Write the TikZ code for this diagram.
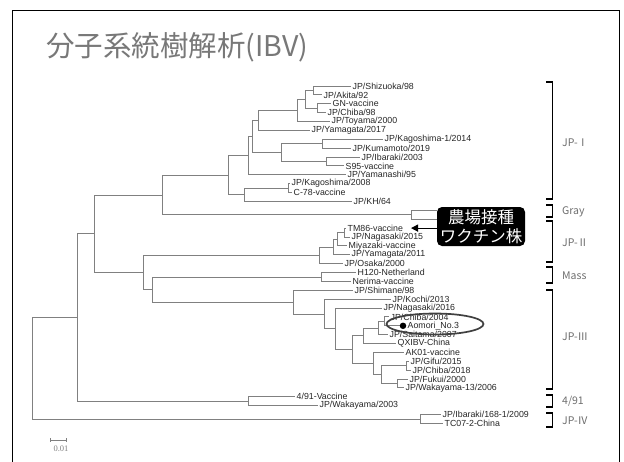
\documentclass[tikz,border=0pt]{standalone}
\usepackage{fontspec}
\setmainfont{Liberation Sans}
\newfontfamily\cjk{Noto Sans CJK JP}
\newfontfamily\numserif{Liberation Serif}
\usetikzlibrary{arrows.meta,shapes.geometric}
\definecolor{treegray}{RGB}{128,128,128}
\definecolor{titlegray}{RGB}{120,120,120}
\definecolor{labgray}{RGB}{110,110,110}
\begin{document}
\begin{tikzpicture}[x=1pt,y=-1pt,
  br/.style={draw=treegray,line width=0.9pt},
  lab/.style={anchor=west,inner sep=0pt,xshift=1.5pt,text=black!85,font=\fontsize{8.8}{9.5}\selectfont},
  brk/.style={draw=black,line width=1.6pt},
  grp/.style={anchor=west,inner sep=0pt,text=labgray,font=\cjk\fontsize{10.5}{11}\selectfont}]
\useasboundingbox (0,0) rectangle (624,461);
\fill[white] (0,0) rectangle (624,461);
% frame
\draw[line width=1.5pt] (12.5,470) -- (12.5,10.5) -- (619.5,10.5) -- (619.5,470);
% title
\node[anchor=west,inner sep=0pt,text=titlegray,font=\cjk\fontsize{28.5}{31}\selectfont] (title) at (46,47) {分子系統樹解析(IBV)};

% ---- leaves
\coordinate (l1) at (351,86.0);
\coordinate (l2) at (322,94.9);
\coordinate (l3) at (331,103.8);
\coordinate (l4) at (326,112.6);
\coordinate (l5) at (330,121.5);
\coordinate (l6) at (310,130.4);
\coordinate (l7) at (383,139.3);
\coordinate (l8) at (351,148.2);
\coordinate (l9) at (360,157.0);
\coordinate (l10) at (344,165.9);
\coordinate (l11) at (346,174.8);
\coordinate (l12) at (290,183.7);
\coordinate (l13) at (292,192.6);
\coordinate (l14) at (352,201.4);
\coordinate (l15) at (437,210.3);
\coordinate (l16) at (437,219.2);
\coordinate (l17) at (346,228.1);
\coordinate (l18) at (350,237.0);
\coordinate (l19) at (347,245.8);
\coordinate (l20) at (350,254.7);
\coordinate (l21) at (343,263.6);
\coordinate (l22) at (356,272.5);
\coordinate (l23) at (351,281.4);
\coordinate (l24) at (353,290.2);
\coordinate (l25) at (391,299.1);
\coordinate (l26) at (382,308.0);
\coordinate (l27) at (389,316.9);
\coordinate (l28) at (403,325.8);
\coordinate (l29) at (388,334.6);
\coordinate (l30) at (396,343.5);
\coordinate (l31) at (404,352.4);
\coordinate (l32) at (409,361.3);
\coordinate (l33) at (411,370.2);
\coordinate (l34) at (408,379.0);
\coordinate (l35) at (404,387.9);
\coordinate (l36) at (295,396.8);
\coordinate (l37) at (318,405.7);
\coordinate (l38) at (441,414.6);
\coordinate (l39) at (443,423.4);

% ---- internal nodes
\coordinate (A) at (313,90.45);
\coordinate (B) at (317,108.2);
\coordinate (C) at (305,99.3);
\coordinate (D) at (297,110.4);
\coordinate (E) at (258,120.4);
\coordinate (H) at (322,143.75);
\coordinate (I) at (326,161.45);
\coordinate (G) at (281,152.6);
\coordinate (F) at (252,136.5);
\coordinate (P248) at (248,155.65);
\coordinate (KC) at (288,188.15);
\coordinate (P244) at (244,194.8);
\coordinate (P228) at (228,175.2);
\coordinate (GR) at (411,214.75);
\coordinate (P162) at (162,195.0);
\coordinate (TN) at (344,232.55);
\coordinate (Z) at (337,239.2);
\coordinate (X) at (333,246.95);
\coordinate (JP2) at (319,255.3);
\coordinate (MS) at (321,276.95);
\coordinate (N1) at (384,321.35);
\coordinate (N) at (378,327.97);
\coordinate (Q) at (363,335.7);
\coordinate (G1) at (406,365.75);
\coordinate (F1) at (397,383.45);
\coordinate (R2) at (381,374.6);
\coordinate (R) at (373,363.5);
\coordinate (M) at (352,349.6);
\coordinate (L) at (335,328.8);
\coordinate (K) at (324,313.95);
\coordinate (J) at (293,302.1);
\coordinate (P152) at (152,289.5);
\coordinate (P143) at (143,272.4);
\coordinate (P94) at (94,233.7);
\coordinate (V) at (248,401.25);
\coordinate (P77) at (77,317.5);
\coordinate (W) at (420,419.0);
\coordinate (ROOT) at (32,368.25);

% ---- branches
\draw[br] (A) |- (l1); \draw[br] (A) |- (l2);
\draw[br] (B) |- (l3); \draw[br] (B) |- (l4);
\draw[br] (C) |- (A); \draw[br] (C) |- (B);
\draw[br] (D) |- (C); \draw[br] (D) |- (l5);
\draw[br] (E) |- (D); \draw[br] (E) |- (l6);
\draw[br] (H) |- (l7); \draw[br] (H) |- (l8);
\draw[br] (I) |- (l9); \draw[br] (I) |- (l10);
\draw[br] (G) |- (H); \draw[br] (G) |- (I);
\draw[br] (F) |- (E); \draw[br] (F) |- (G);
\draw[br] (P248) |- (F); \draw[br] (P248) |- (l11);
\draw[br] (KC) |- (l12); \draw[br] (KC) |- (l13);
\draw[br] (P244) |- (KC); \draw[br] (P244) |- (l14);
\draw[br] (P228) |- (P248); \draw[br] (P228) |- (P244);
\draw[br] (GR) |- (l15); \draw[br] (GR) |- (l16);
\draw[br] (P162) |- (P228); \draw[br] (P162) |- (GR);
\draw[br] (TN) |- (l17); \draw[br] (TN) |- (l18);
\draw[br] (Z) |- (TN); \draw[br] (Z) |- (l19);
\draw[br] (X) |- (Z); \draw[br] (X) |- (l20);
\draw[br] (JP2) |- (X); \draw[br] (JP2) |- (l21);
\draw[br] (MS) |- (l22); \draw[br] (MS) |- (l23);
\draw[br] (N1) |- (l27); \draw[br] (N1) |- (l28);
\draw[br] (N) |- (N1); \draw[br] (N) |- (l29);
\draw[br] (Q) |- (N); \draw[br] (Q) |- (l30);
\draw[br] (G1) |- (l32); \draw[br] (G1) |- (l33);
\draw[br] (F1) |- (l34); \draw[br] (F1) |- (l35);
\draw[br] (R2) |- (G1); \draw[br] (R2) |- (F1);
\draw[br] (R) |- (l31); \draw[br] (R) |- (R2);
\draw[br] (M) |- (Q); \draw[br] (M) |- (R);
\draw[br] (L) |- (l26); \draw[br] (L) |- (M);
\draw[br] (K) |- (l25); \draw[br] (K) |- (L);
\draw[br] (J) |- (l24); \draw[br] (J) |- (K);
\draw[br] (P152) |- (MS); \draw[br] (P152) |- (J);
\draw[br] (P143) |- (JP2); \draw[br] (P143) |- (P152);
\draw[br] (P94) |- (P162); \draw[br] (P94) |- (P143);
\draw[br] (V) |- (l36); \draw[br] (V) |- (l37);
\draw[br] (P77) |- (P94); \draw[br] (P77) |- (V);
\draw[br] (W) |- (l38); \draw[br] (W) |- (l39);
\draw[br] (ROOT) |- (P77); \draw[br] (ROOT) |- (W);

% ---- labels
\node[lab] (t1) at (l1) {JP/Shizuoka/98};
\node[lab] (t2) at (l2) {JP/Akita/92};
\node[lab] (t3) at (l3) {GN-vaccine};
\node[lab] (t4) at (l4) {JP/Chiba/98};
\node[lab] (t5) at (l5) {JP/Toyama/2000};
\node[lab] (t6) at (l6) {JP/Yamagata/2017};
\node[lab] (t7) at (l7) {JP/Kagoshima-1/2014};
\node[lab] (t8) at (l8) {JP/Kumamoto/2019};
\node[lab] (t9) at (l9) {JP/Ibaraki/2003};
\node[lab] (t10) at (l10) {S95-vaccine};
\node[lab] (t11) at (l11) {JP/Yamanashi/95};
\node[lab] (t12) at (l12) {JP/Kagoshima/2008};
\node[lab] (t13) at (l13) {C-78-vaccine};
\node[lab] (t14) at (l14) {JP/KH/64};
\node[lab] (t17) at (l17) {TM86-vaccine};
\node[lab] (t18) at (l18) {JP/Nagasaki/2015};
\node[lab] (t19) at (l19) {Miyazaki-vaccine};
\node[lab] (t20) at (l20) {JP/Yamagata/2011};
\node[lab] (t21) at (l21) {JP/Osaka/2000};
\node[lab] (t22) at (l22) {H120-Netherland};
\node[lab] (t23) at (l23) {Nerima-vaccine};
\node[lab] (t24) at (l24) {JP/Shimane/98};
\node[lab] (t25) at (l25) {JP/Kochi/2013};
\node[lab] (t26) at (l26) {JP/Nagasaki/2016};
\node[lab] (t27) at (l27) {JP/Chiba/2004};
\node[circle,fill=black,inner sep=0pt,minimum size=6.5pt] (dot) at (l28) {};
\node[lab,xshift=3pt] (t28) at (l28) {Aomori\_No.3};
\node[lab] (t29) at (l29) {JP/Saitama/2007};
\node[lab] (t30) at (l30) {QXIBV-China};
\node[lab] (t31) at (l31) {AK01-vaccine};
\node[lab] (t32) at (l32) {JP/Gifu/2015};
\node[lab] (t33) at (l33) {JP/Chiba/2018};
\node[lab] (t34) at (l34) {JP/Fukui/2000};
\node[lab] (t35) at (l35) {JP/Wakayama-13/2006};
\node[lab] (t36) at (l36) {4/91-Vaccine};
\node[lab] (t37) at (l37) {JP/Wakayama/2003};
\node[lab] (t38) at (l38) {JP/Ibaraki/168-1/2009};
\node[lab] (t39) at (l39) {TC07-2-China};

% ellipse around Aomori
\node[draw=black!75,line width=1.7pt,ellipse,minimum width=97pt,minimum height=21pt,inner sep=0pt] (ell) at (435,324) {};

% callout
\node[fill=black,rounded corners=5pt,minimum width=88pt,minimum height=39pt,inner sep=0pt,align=center,text=white,font=\cjk\fontsize{16.5}{18.5}\selectfont] (call) at (481,226.5) {農場接種\\ワクチン株};
\coordinate (arrtip) at (411,228.1);
\draw[line width=1.2pt,-{Triangle[length=7pt,width=7pt]}] (call.west |- arrtip) -- (arrtip);

% brackets
\draw[brk] (546,82) -- (552.5,82) -- (552.5,199) -- (546,199);
\draw[brk] (546,205) -- (552.5,205) -- (552.5,217) -- (546,217);
\draw[brk] (546,221) -- (552.5,221) -- (552.5,262) -- (546,262);
\draw[brk] (546,267) -- (552.5,267) -- (552.5,283) -- (546,283);
\draw[brk] (546,290) -- (552.5,290) -- (552.5,389) -- (546,389);
\draw[brk] (546,395) -- (552.5,395) -- (552.5,407) -- (546,407);
\draw[brk] (546,413) -- (552.5,413) -- (552.5,427) -- (546,427);
\node[grp] (g1) at (562,143) {JP-Ⅰ};
\node[grp] (g2) at (562,212) {Gray};
\node[grp] (g3) at (562,243) {JP-Ⅱ};
\node[grp] (g4) at (562,276) {Mass};
\node[grp] (g5) at (562,337) {JP-Ⅲ};
\node[grp] (g6) at (562,401) {4/91};
\node[grp] (g7) at (562,421) {JP-Ⅳ};

% scale bar
\coordinate (sb1) at (50,440);
\coordinate (sb2) at (67,440);
\draw[treegray,line width=0.9pt,{Bar[width=3.5pt]}-{Bar[width=3.5pt]}] (sb1) -- (sb2);
\node[inner sep=0pt,text=treegray,font=\numserif\fontsize{8.5}{9}\selectfont] (sbl) at (61,449) {0.01};
\end{tikzpicture}
\end{document}
